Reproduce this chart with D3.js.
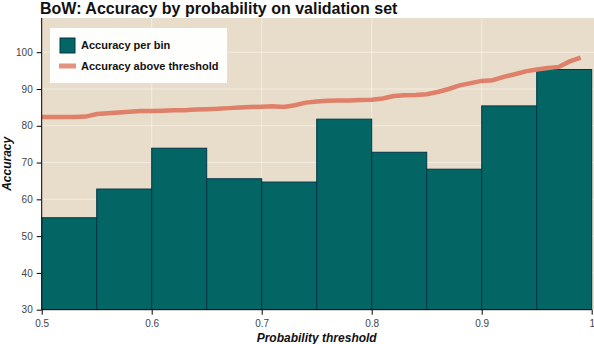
<!DOCTYPE html>
<html>
<head>
<meta charset="utf-8">
<script src="https://cdn.jsdelivr.net/npm/d3@7"></script>
<style>
  body { margin: 0; background: #fff; }
  svg { display: block; font-family: "Liberation Sans", Arial, Helvetica, sans-serif; }
</style>
</head>
<body>
<svg id="chart" width="594" height="344"></svg>
<script>
// bins of the histogram (left edge, right edge) and accuracy per bin
var binLeft = [0.50, 0.55, 0.60, 0.65, 0.70, 0.75, 0.80, 0.85, 0.90, 0.95];
var binRight = [0.55, 0.60, 0.65, 0.70, 0.75, 0.80, 0.85, 0.90, 0.95, 1.00];
var binAccuracy = [55.0, 62.8, 73.9, 65.6, 64.7, 81.8, 72.8, 68.2, 85.4, 95.3];

// accuracy of everything above each threshold
var thresholds = [0.50, 0.51, 0.52, 0.53, 0.54, 0.55, 0.56, 0.57, 0.58, 0.59,
                  0.60, 0.61, 0.62, 0.63, 0.64, 0.65, 0.66, 0.67, 0.68, 0.69,
                  0.70, 0.71, 0.72, 0.73, 0.74, 0.75, 0.76, 0.77, 0.78, 0.79,
                  0.80, 0.81, 0.82, 0.83, 0.84, 0.85, 0.86, 0.87, 0.88, 0.89,
                  0.90, 0.91, 0.92, 0.93, 0.94, 0.95, 0.96, 0.97, 0.98, 0.99];
var aboveAccuracy = [82.4, 82.4, 82.4, 82.4, 82.5, 83.2, 83.4, 83.6, 83.8, 84.0,
                     84.0, 84.1, 84.2, 84.2, 84.4, 84.5, 84.6, 84.8, 85.0, 85.1,
                     85.2, 85.3, 85.1, 85.6, 86.3, 86.6, 86.8, 86.9, 86.9, 87.0,
                     87.1, 87.4, 88.1, 88.3, 88.4, 88.6, 89.2, 90.0, 91.0, 91.6,
                     92.2, 92.4, 93.3, 94.0, 94.8, 95.3, 95.7, 96.0, 97.5, 98.5];

var xTicks = [0.5, 0.6, 0.7, 0.8, 0.9, 1.0];
var xTickLabels = ['0.5', '0.6', '0.7', '0.8', '0.9', '1'];
var yTicks = [30, 40, 50, 60, 70, 80, 90, 100];

var legendLabels = ['Accuracy per bin', 'Accuracy above threshold'];

var svg = d3.select('#chart');
var plotLeft = 41.7, plotRight = 591.7, plotTop = 18, plotBottom = 309.7;

var x = d3.scaleLinear().domain([0.5, 1.0]).range([plotLeft, plotRight]);
var y = d3.scaleLinear().domain([30, 109.3]).range([plotBottom, plotTop]);

// plot background
svg.append('rect')
    .attr('x', plotLeft).attr('y', plotTop)
    .attr('width', 594 - plotLeft).attr('height', plotBottom - plotTop)
    .attr('fill', '#E8DDCB');

// grid
var grid = svg.append('g');
grid.selectAll('.gx').data(xTicks.slice(1, -1)).enter().append('line')
    .attr('x1', function(d) { return x(d); }).attr('x2', function(d) { return x(d); })
    .attr('y1', plotTop).attr('y2', plotBottom)
    .attr('stroke', '#fff').attr('stroke-opacity', 0.45);
grid.selectAll('.gy').data(yTicks.slice(1)).enter().append('line')
    .attr('x1', plotLeft).attr('x2', 594)
    .attr('y1', function(d) { return y(d); }).attr('y2', function(d) { return y(d); })
    .attr('stroke', '#fff').attr('stroke-opacity', 0.45);

// clip for marks
svg.append('clipPath').attr('id', 'plotclip').append('rect')
    .attr('x', plotLeft).attr('y', plotTop).attr('width', 594 - plotLeft).attr('height', plotBottom - plotTop);

var marks = svg.append('g').attr('clip-path', 'url(#plotclip)');

marks.selectAll('rect.bin').data(binAccuracy).enter().append('rect')
    .attr('class', 'bin')
    .attr('x', function(d, i) { return x(binLeft[i]); })
    .attr('width', function(d, i) { return x(binRight[i]) - x(binLeft[i]); })
    .attr('y', function(d) { return y(d); })
    .attr('height', function(d) { return plotBottom - y(d) + 2; })
    .attr('fill', '#036564')
    .attr('stroke', '#033649')
    .attr('stroke-width', 1);

var line = d3.line()
    .x(function(d, i) { return x(thresholds[i]); })
    .y(function(d) { return y(d); });

marks.append('path')
    .datum(aboveAccuracy)
    .attr('d', line)
    .attr('fill', 'none')
    .attr('stroke', '#DF806A')
    .attr('stroke-width', 4.5);

// axes
var xAxis = d3.axisBottom(x)
    .tickValues(xTicks)
    .tickFormat(function(d, i) { return xTickLabels[i]; })
    .tickSize(5).tickPadding(5);
var xMinor = d3.axisBottom(x)
    .tickValues(d3.range(0.52, 1.0, 0.02))
    .tickFormat('').tickSize(4);

var gx = svg.append('g').attr('transform', 'translate(0,' + plotBottom + ')');
gx.call(xMinor);
gx.call(xAxis);

var yAxis = d3.axisLeft(y)
    .tickValues(yTicks)
    .tickSize(5).tickPadding(4);
var yMinor = d3.axisLeft(y)
    .tickValues(d3.range(32, 110, 2))
    .tickFormat('').tickSize(4);

var gy = svg.append('g').attr('transform', 'translate(' + plotLeft + ',0)');
gy.call(yMinor);
gy.call(yAxis);

svg.selectAll('.domain').attr('stroke', '#000');
svg.selectAll('.tick line').attr('stroke', '#000');
svg.selectAll('.tick text')
    .attr('fill', '#444')
    .style('font-size', '10px')
    .style('font-family', '"Liberation Sans", Arial, sans-serif');
gx.select('.domain').attr('d', 'M' + plotLeft + ',0H' + plotRight);
gy.select('.domain').attr('d', 'M0,' + plotTop + 'V' + plotBottom);

// title and axis labels
svg.append('text')
    .attr('x', 40).attr('y', 14)
    .style('font-size', '16px').style('font-weight', 'bold')
    .attr('fill', '#111')
    .text('BoW: Accuracy by probability on validation set');

svg.append('text')
    .attr('x', (plotLeft + plotRight) / 2).attr('y', 342)
    .attr('text-anchor', 'middle')
    .style('font-size', '12px').style('font-weight', 'bold').style('font-style', 'italic')
    .attr('fill', '#111')
    .text('Probability threshold');

svg.append('text')
    .attr('transform', 'translate(11,' + ((plotTop + plotBottom) / 2) + ') rotate(-90)')
    .attr('text-anchor', 'middle')
    .style('font-size', '12px').style('font-weight', 'bold').style('font-style', 'italic')
    .attr('fill', '#111')
    .text('Accuracy');

// legend
var legend = svg.append('g').attr('transform', 'translate(50,28)');
legend.append('rect')
    .attr('width', 177).attr('height', 55)
    .attr('fill', '#fff').attr('fill-opacity', 0.95);
legend.append('rect')
    .attr('x', 10).attr('y', 10).attr('width', 15).attr('height', 15)
    .attr('fill', '#036564').attr('stroke', '#033649');
legend.append('line')
    .attr('x1', 9).attr('x2', 26).attr('y1', 38).attr('y2', 38)
    .attr('stroke', '#DF806A').attr('stroke-width', 5).attr('stroke-opacity', 0.85);
legend.selectAll('text.lab').data(legendLabels).enter().append('text')
    .attr('class', 'lab')
    .attr('x', 31)
    .attr('y', function(d, i) { return 17.5 + i * 21; })
    .attr('dy', '0.35em')
    .style('font-size', '11px').style('font-weight', 'bold')
    .attr('fill', '#111')
    .text(function(d) { return d; });
</script>
</body>
</html>
